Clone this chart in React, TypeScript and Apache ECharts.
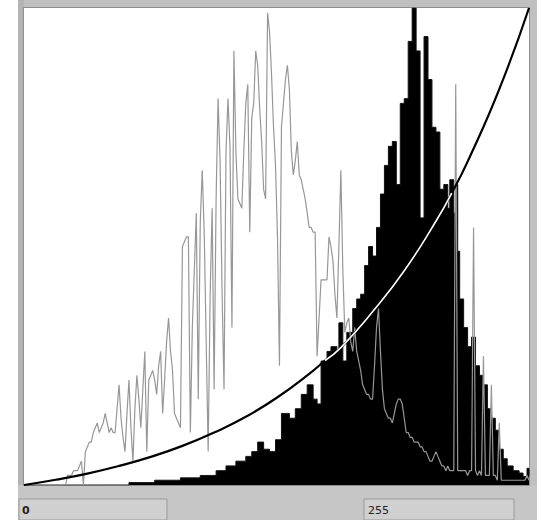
import React, { useEffect, useRef } from "react";
import * as echarts from "echarts";

// Gray histogram (original), bins 0..255, percent of max height
const grayHist: number[] = [
  0, 0, 0, 0, 0, 0, 0, 0, 0, 0,
  0, 0, 0, 0, 0, 0, 0, 0, 0, 0,
  0, 0, 2, 2, 2, 3, 3, 3, 4, 5,
  0, 7, 8, 9, 9, 11, 12, 13, 11, 12,
  13, 15, 13, 11, 12, 11, 11, 16, 21, 14,
  10, 7, 15, 22, 12, 5, 16, 23, 18, 12,
  20, 28, 7, 22, 23, 24, 22, 19, 25, 28,
  15, 22, 30, 35, 28, 24, 15, 14, 13, 12,
  50, 51, 52, 52, 11, 33, 45, 57, 18, 55,
  66, 53, 30, 7, 40, 58, 20, 60, 81, 68,
  41, 20, 70, 81, 71, 33, 91, 70, 60, 59,
  58, 70, 80, 84, 53, 77, 80, 91, 88, 79,
  72, 62, 60, 99, 95, 86, 75, 67, 52, 25,
  75, 80, 85, 88, 83, 70, 65, 68, 72, 65,
  64, 62, 60, 57, 54, 54, 53, 53, 27, 35,
  43, 43, 43, 43, 52, 50, 47, 40, 35, 50,
  66, 45, 32, 34, 35, 30, 28, 33, 28, 26,
  24, 21, 20, 19, 19, 18, 18, 25, 33, 37,
  28, 20, 16, 15, 14, 14, 13, 15, 17, 18,
  18, 17, 14, 11, 11, 10, 10, 9, 9, 9,
  8, 8, 7, 7, 6, 5, 5, 6, 7, 6,
  5, 4, 4, 3, 4, 3, 3, 3, 84, 3,
  3, 3, 3, 3, 2, 3, 3, 54, 3, 2,
  3, 2, 27, 2, 2, 2, 21, 2, 2, 1,
  13, 1, 1, 1, 1, 1, 1, 1, 1, 1,
  1, 1, 1, 1, 2, 1,
];

// Black histogram (equalized), bins 0..255
const blackHist: number[] = [
  0, 0, 0, 0, 0, 0, 0, 0, 0, 0,
  0, 0, 0, 0, 0, 0, 0, 0, 0, 0,
  0, 0, 0, 0, 0, 0, 0, 0, 0, 0,
  0, 0, 0, 0, 0, 0, 0, 0, 0, 0,
  0, 0, 0, 0, 0, 0, 0, 0, 0, 0,
  0, 0, 0, 0.5, 0.5, 0.5, 0.5, 0.5, 0.5, 0.5,
  0.5, 0.5, 0.5, 0.5, 0.5, 0.5, 1, 1, 1, 1,
  1, 1, 1, 1, 1, 1, 1, 1, 1, 1.5,
  1.5, 1.5, 1.5, 1.5, 1.5, 1.5, 1.5, 1.5, 1.5, 2,
  2, 2, 2, 2, 2, 2, 2, 3, 3, 3,
  3, 3, 4, 4, 4, 4, 4, 5, 5, 5,
  5, 5, 6, 6, 6, 7, 7, 7, 9, 9,
  9, 7.5, 7.5, 7.5, 7, 7, 7, 9.5, 9.5, 9.5,
  15, 15, 15, 15, 14, 14, 14, 16, 16, 16,
  19, 19, 19, 21, 21, 21, 18, 18, 17, 17,
  26, 26, 26, 28, 28, 29, 29, 29, 28, 34,
  34, 26, 26, 32, 32, 32, 37, 37, 39, 39,
  40, 40, 46, 46, 50, 50, 48, 48, 54, 54,
  61, 61, 67, 67, 71, 71, 72, 72, 63, 63,
  80, 80, 81, 81, 93, 93, 100, 100, 91, 91,
  56, 56, 94, 94, 85, 85, 75, 75, 74, 74,
  62, 62, 63, 63, 58, 64, 64, 57, 63, 49,
  39, 39, 33, 33, 29, 29, 31, 31, 25, 25,
  23, 23, 21, 21, 16, 16, 14, 14, 11.5, 11.5,
  7.5, 7.5, 5.5, 5.5, 4, 4, 4, 3, 3, 3,
  2.5, 2.5, 1.8, 1.8, 3.5, 2,
];

// Transfer curve, sampled points [bin, percent]
const curveBins: number[] = [0, 16, 32, 48, 64, 80, 96, 112, 128, 144, 152, 160, 176, 192, 208, 216, 224, 240, 255];
const curveVals: number[] = [0, 1.1, 2.4, 4.0, 5.9, 8.2, 11, 14.3, 18.4, 23.3, 26.1, 28.8, 36.3, 44.9, 55.3, 61.2, 67.8, 83, 100];

const axisLabels: string[] = ["0", "255"];

export default function App() {
  const ref = useRef<HTMLDivElement>(null);
  useEffect(() => {
    if (!ref.current) return;
    const chart = echarts.init(ref.current, null, { renderer: "svg" });
    const grayData = grayHist.map((v, i) => [i, v]);
    const blackData = blackHist.map((v, i) => [i, v]);
    const curveData = curveBins.map((b, i) => [b, curveVals[i]]);
    const whiteData = curveData.filter((p) => p[0] >= 152 && p[0] <= 216);
    const frame = "#c0c0c0";
    chart.setOption({
      animation: false,
      backgroundColor: "#ffffff",
      grid: { left: 24, top: 8, right: 13, bottom: 35 },
      xAxis: {
        type: "value", min: 0, max: 255,
        axisLine: { show: false }, axisTick: { show: false },
        axisLabel: { show: false }, splitLine: { show: false },
      },
      yAxis: {
        type: "value", min: 0, max: 100,
        axisLine: { show: false }, axisTick: { show: false },
        axisLabel: { show: false }, splitLine: { show: false },
      },
      series: [
        {
          type: "line", data: blackData, step: "end", symbol: "none",
          lineStyle: { color: "#111", width: 1 },
          areaStyle: { color: "#000", opacity: 1 }, z: 1,
        },
        {
          type: "line", data: grayData, symbol: "none",
          lineStyle: { color: "#979797", width: 1.2 }, z: 2,
        },
        {
          type: "line", data: curveData, smooth: true, symbol: "none",
          lineStyle: { color: "#000", width: 2.2 }, z: 3,
        },
        {
          type: "line", data: whiteData, smooth: true, symbol: "none",
          lineStyle: { color: "#fff", width: 1.6 }, z: 4,
        },
      ],
      graphic: [
        { type: "rect", shape: { x: 0, y: 0, width: 18, height: 520 }, style: { fill: "#ffffff" }, silent: true },
        { type: "rect", shape: { x: 18, y: 0, width: 519, height: 8 }, style: { fill: frame }, silent: true },
        { type: "rect", shape: { x: 18, y: 0, width: 6, height: 500 }, style: { fill: "#b4b4b4" }, silent: true },
        { type: "rect", shape: { x: 529, y: 0, width: 8, height: 500 }, style: { fill: frame }, silent: true },
        { type: "rect", shape: { x: 18, y: 485, width: 519, height: 35 }, style: { fill: "#c6c6c6" }, silent: true },
        { type: "rect", shape: { x: 23.5, y: 7.5, width: 506, height: 478 }, style: { fill: "none", stroke: "#8e8e8e", lineWidth: 1 }, silent: true },
        { type: "rect", shape: { x: 19, y: 499, width: 148, height: 21 }, style: { fill: "#d0d0d0", stroke: "#9a9a9a", lineWidth: 1 }, silent: true },
        { type: "rect", shape: { x: 364, y: 499, width: 150, height: 21 }, style: { fill: "#d0d0d0", stroke: "#9a9a9a", lineWidth: 1 }, silent: true },
        { type: "text", x: 22, y: 510, style: { text: axisLabels[0], fontSize: 11, fontWeight: "bold", fill: "#222", verticalAlign: "middle", fontFamily: "DejaVu Sans" }, silent: true },
        { type: "text", x: 368, y: 510, style: { text: axisLabels[1], fontSize: 11, fill: "#222", verticalAlign: "middle", fontFamily: "DejaVu Sans" }, silent: true },
      ],
    });
    return () => chart.dispose();
  }, []);
  return (
    <div
      ref={ref}
      style={{ position: "fixed", left: 0, top: 0, width: 542, height: 520 }}
    />
  );
}
